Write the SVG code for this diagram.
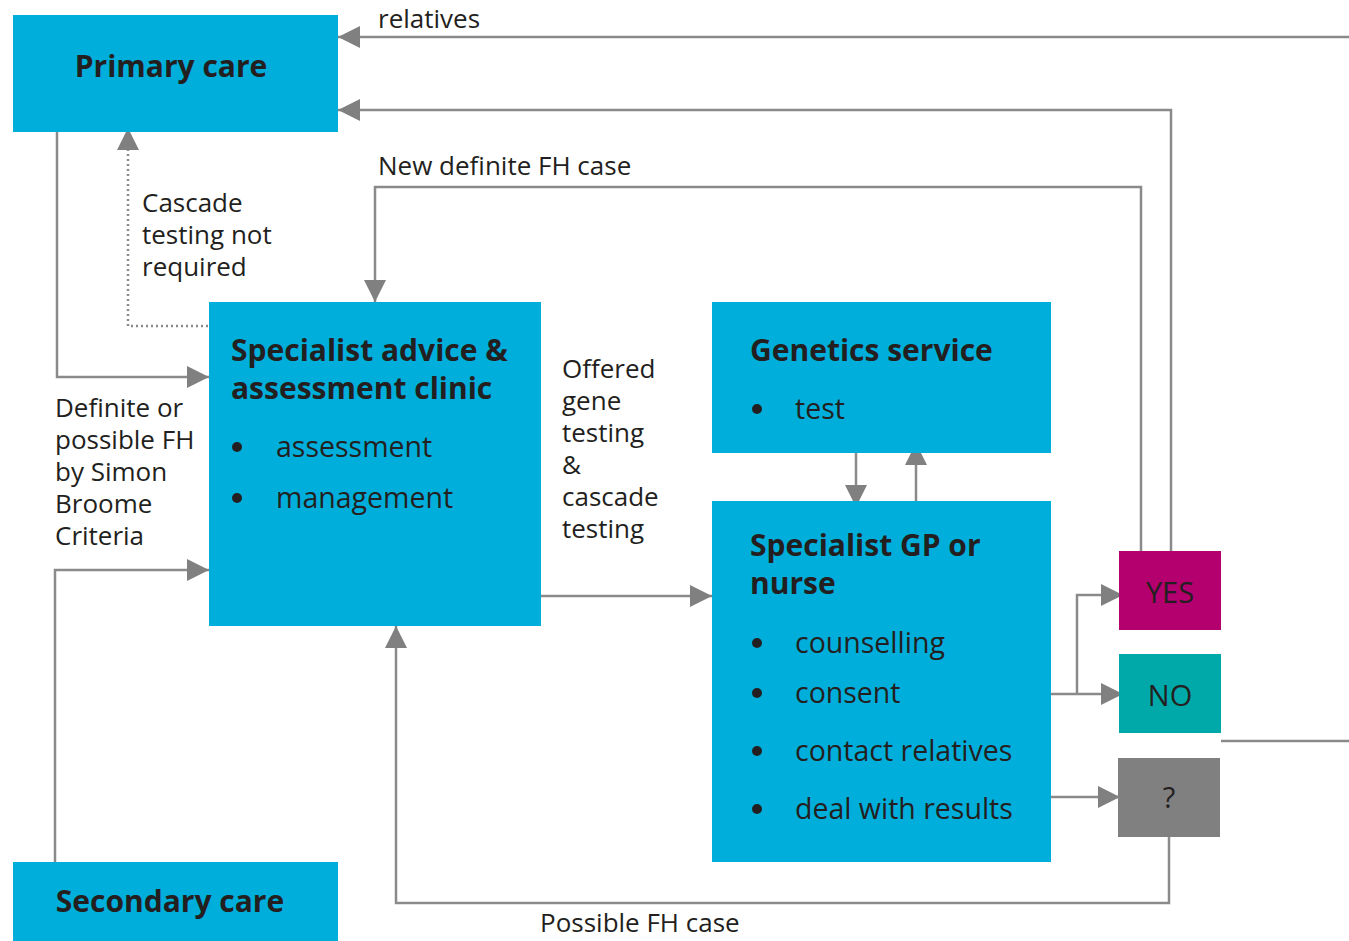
<svg xmlns="http://www.w3.org/2000/svg" width="1349" height="941" viewBox="0 0 1349 941">
  <style>
    .box { fill: #00aedb; }
    .title { font-family: "Open Sans", "Noto Sans", sans-serif; font-weight: 700; font-size: 30px; fill: #231f20; }
    .item { font-family: "Open Sans", "Noto Sans", sans-serif; font-size: 28.5px; fill: #231f20; }
    .label { font-family: "Open Sans", "Noto Sans", sans-serif; font-size: 26px; fill: #231f20; }
    .answer { font-family: "Open Sans", "Noto Sans", sans-serif; font-size: 29px; fill: #231f20; text-anchor: middle; }
    .bullet { fill: #231f20; }
    .link { fill: none; stroke: #8a8a8a; stroke-width: 2.5; }
    .dotted { fill: none; stroke: #8a8a8a; stroke-width: 2.5; stroke-dasharray: 2 3; }
  </style>
  <defs>
    <marker id="arrow" markerUnits="userSpaceOnUse" markerWidth="22" markerHeight="22" refX="22" refY="11" orient="auto">
      <path d="M0,0 L22,11 L0,22 z" fill="#808080"/>
    </marker>
  </defs>

  <rect width="1349" height="941" fill="#ffffff"/>

  <!-- connectors -->
  <g id="connectors">
    <path class="link" d="M1349,37 H338" marker-end="url(#arrow)"/>
    <path class="link" d="M1171,551 V110 H338" marker-end="url(#arrow)"/>
    <path class="link" d="M1141,551 V187 H375 V302" marker-end="url(#arrow)"/>
    <path class="dotted" d="M208,326 H128 V150"/>
    <path class="link" d="M128,152 V128" marker-end="url(#arrow)" stroke-opacity="0"/>
    <path class="link" d="M57,132 V377 H209" marker-end="url(#arrow)"/>
    <path class="link" d="M55,862 V570 H209" marker-end="url(#arrow)"/>
    <path class="link" d="M541,596 H712" marker-end="url(#arrow)"/>
    <path class="link" d="M856,450 V507" marker-end="url(#arrow)"/>
    <path class="link" d="M916,501 V443" marker-end="url(#arrow)"/>
    <path class="link" d="M1051,694 H1123" marker-end="url(#arrow)"/>
    <path class="link" d="M1077,694 V595 H1123" marker-end="url(#arrow)"/>
    <path class="link" d="M1051,797 H1120" marker-end="url(#arrow)"/>
    <path class="link" d="M1169,837 V903 H396 V626" marker-end="url(#arrow)"/>
    <path class="link" d="M1221,741 H1349"/>
  </g>

  <!-- connector labels -->
  <g id="labels">
    <text class="label" x="378" y="28">relatives</text>
    <text class="label" x="378" y="175">New definite FH case</text>
    <text class="label" x="142" y="212">Cascade<tspan x="142" dy="32">testing not</tspan><tspan x="142" dy="32">required</tspan></text>
    <text class="label" x="55" y="417">Definite or<tspan x="55" dy="32">possible FH</tspan><tspan x="55" dy="32">by Simon</tspan><tspan x="55" dy="32">Broome</tspan><tspan x="55" dy="32">Criteria</tspan></text>
    <text class="label" x="562" y="378">Offered<tspan x="562" dy="32">gene</tspan><tspan x="562" dy="32">testing</tspan><tspan x="562" dy="32">&amp;</tspan><tspan x="562" dy="32">cascade</tspan><tspan x="562" dy="32">testing</tspan></text>
    <text class="label" x="540" y="932">Possible FH case</text>
  </g>

  <g id="primary-care">
    <rect class="box" x="13" y="15" width="325" height="117"/>
    <text class="title" x="171" y="77" text-anchor="middle">Primary care</text>
  </g>

  <g id="secondary-care">
    <rect class="box" x="13" y="862" width="325" height="79"/>
    <text class="title" x="170" y="912" text-anchor="middle">Secondary care</text>
  </g>

  <g id="specialist-clinic">
    <rect class="box" x="209" y="302" width="332" height="324"/>
    <text class="title" x="231" y="361">Specialist advice &amp;<tspan x="231" dy="38">assessment clinic</tspan></text>
    <circle class="bullet" cx="237" cy="447" r="5"/>
    <text class="item" x="276" y="457">assessment</text>
    <circle class="bullet" cx="237" cy="498" r="5"/>
    <text class="item" x="276" y="508">management</text>
  </g>

  <g id="genetics-service">
    <rect class="box" x="712" y="302" width="339" height="151"/>
    <text class="title" x="750" y="361">Genetics service</text>
    <circle class="bullet" cx="757" cy="409" r="5"/>
    <text class="item" x="795" y="419">test</text>
  </g>

  <g id="specialist-gp">
    <rect class="box" x="712" y="501" width="339" height="361"/>
    <text class="title" x="750" y="556">Specialist GP or<tspan x="750" dy="38">nurse</tspan></text>
    <circle class="bullet" cx="757" cy="643" r="5"/>
    <text class="item" x="795" y="653">counselling</text>
    <circle class="bullet" cx="757" cy="693" r="5"/>
    <text class="item" x="795" y="703">consent</text>
    <circle class="bullet" cx="757" cy="751" r="5"/>
    <text class="item" x="795" y="761">contact relatives</text>
    <circle class="bullet" cx="757" cy="809" r="5"/>
    <text class="item" x="795" y="819">deal with results</text>
  </g>

  <g id="yes">
    <rect x="1119" y="551" width="102" height="79" fill="#b4006e"/>
    <text class="answer" x="1170" y="603">YES</text>
  </g>

  <g id="no">
    <rect x="1119" y="654" width="102" height="79" fill="#00a9a9"/>
    <text class="answer" x="1170" y="706">NO</text>
  </g>

  <g id="unknown">
    <rect x="1118" y="758" width="102" height="79" fill="#808080"/>
    <text class="answer" x="1169" y="808">?</text>
  </g>
</svg>
